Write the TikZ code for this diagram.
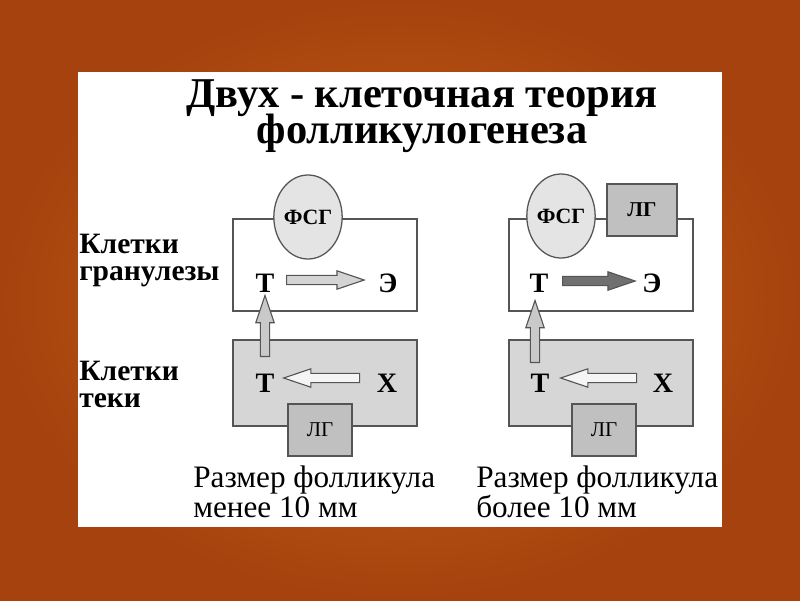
\documentclass[tikz,border=0pt]{standalone}
\usepackage{fontspec}
\setmainfont{Liberation Serif}
\usetikzlibrary{calc, positioning, shapes.geometric}
\definecolor{slidebg}{RGB}{204,102,24}
\definecolor{slidedark}{RGB}{165,66,14}
\definecolor{linegray}{RGB}{85,85,85}
\definecolor{thecagray}{RGB}{214,214,214}
\definecolor{lhgray}{RGB}{192,192,192}
\definecolor{fshgray}{RGB}{228,228,228}
\definecolor{arrowlight}{RGB}{212,212,212}
\definecolor{arrowdark}{RGB}{112,112,112}

\tikzset{
  titletext/.style={align=center, inner sep=0pt, font=\fontsize{30.2pt}{26pt}\selectfont\bfseries},
  sidelabel/.style={align=left, inner sep=0pt, font=\fontsize{21pt}{19.2pt}\selectfont\bfseries},
  sizetext/.style={align=left, inner sep=0pt, font=\fontsize{22.2pt}{21.3pt}\selectfont},
  letter/.style={inner sep=0pt, font=\fontsize{20pt}{20pt}\selectfont\bfseries},
  granbox/.style={draw=linegray, line width=0.9pt, minimum width=4.6cm, minimum height=2.3cm},
  thecabox/.style={draw=linegray, line width=0.9pt, fill=thecagray, minimum width=4.6cm, minimum height=2.15cm},
  fshell/.style={ellipse, draw=linegray, line width=0.9pt, fill=fshgray, inner sep=0pt, minimum width=1.45cm, minimum height=2.1cm, font=\fontsize{15.5pt}{15.5pt}\selectfont\bfseries},
  lhbox/.style={draw=linegray, line width=0.9pt, fill=lhgray, minimum width=1.6cm, minimum height=1.3cm, font=\fontsize{15pt}{15pt}\selectfont},
  arrowshape/.style={draw=linegray, line width=0.8pt, line join=miter, fill=arrowlight}
}

\newcommand{\blockarrow}[3][]{%
  \coordinate (bh) at ($(#3)!0.68cm!(#2)$);
  \draw[arrowshape, #1] ($(#2)!0.115cm!90:(#3)$) -- ($(bh)!0.115cm!-90:(#2)$) -- ($(bh)!0.23cm!-90:(#2)$) -- (#3)
    -- ($(bh)!0.23cm!90:(#2)$) -- ($(bh)!0.115cm!90:(#2)$) -- ($(#2)!0.115cm!-90:(#3)$) -- cycle;}

\begin{document}
\begin{tikzpicture}[x=0.025cm, y=-0.025cm]
    \useasboundingbox (0,0) rectangle (800,600);
    \shade[inner color=slidebg, outer color=slidedark] (0,0) rectangle (800,600);
    \fill[white] (78,72) rectangle (722,527);

    \node[titletext, anchor=base] (title) at (422,143) {Двух - клеточная теория\\[-3pt]фолликулогенеза};

    \node[granbox] (gran1) at (325,265) {};
    \node[granbox] (gran2) at (601,265) {};
    \node[fshell] (fsh1) at (308,217) {ФСГ};
    \node[fshell] (fsh2) at (561,216) {ФСГ};
    \node[lhbox, minimum width=1.75cm, font=\fontsize{15pt}{15pt}\selectfont\bfseries] (lhg2) at (642,210) {ЛГ};

    \node[thecabox] (theca1) at (325,383) {};
    \node[thecabox] (theca2) at (601,383) {};
    \node[lhbox] (lht1) at (320,430) {ЛГ};
    \node[lhbox] (lht2) at (604,430) {ЛГ};

    \node[sidelabel, anchor=base west] (granlbl) at (79,280) {Клетки\\гранулезы};
    \node[sidelabel, anchor=base west] (thecalbl) at (79,407) {Клетки\\теки};

    \node[letter] (tg1) at (265,283) {Т};
    \node[letter] (eg1) at (388,283) {Э};
    \node[letter] (tg2) at (539,283) {Т};
    \node[letter] (eg2) at (652,283) {Э};
    \node[letter] (tt1) at (265,383) {Т};
    \node[letter] (xt1) at (387,383) {Х};
    \node[letter] (tt2) at (540,383) {Т};
    \node[letter] (xt2) at (663,383) {Х};

    \coordinate (ag1s) at ($(tg1.east)+(12,-3)$);
    \coordinate (ag1t) at ($(eg1.west)+(-14,-3)$);
    \coordinate (ag2s) at ($(tg2.east)+(14,-2)$);
    \coordinate (ag2t) at ($(eg2.west)+(-7,-2)$);
    \coordinate (at1s) at ($(xt1.west)+(-17,-5)$);
    \coordinate (at1t) at ($(tt1.east)+(9,-5)$);
    \coordinate (at2s) at ($(xt2.west)+(-16,-5)$);
    \coordinate (at2t) at ($(tt2.east)+(11,-5)$);
    \coordinate (av1s) at ($(tt1.north)+(0,-17)$);
    \coordinate (av1t) at ($(tg1.south)+(0,3)$);
    \coordinate (av2s) at ($(tt2.north)+(-5,-11)$);
    \coordinate (av2t) at ($(tg2.south)+(-4,8)$);

    \blockarrow{ag1s}{ag1t}
    \blockarrow[fill=arrowdark]{ag2s}{ag2t}
    \blockarrow[fill=white!96!black]{at1s}{at1t}
    \blockarrow[fill=white!96!black]{at2s}{at2t}
    \blockarrow[fill=lhgray!85!white]{av1s}{av1t}
    \blockarrow[fill=lhgray!85!white]{av2s}{av2t}

    \node[sizetext, anchor=base west] (size1) at (193,517) {Размер фолликула\\менее 10 мм};
    \node[sizetext, anchor=base west] (size2) at (476,517) {Размер фолликула\\более 10 мм};
\end{tikzpicture}
\end{document}
